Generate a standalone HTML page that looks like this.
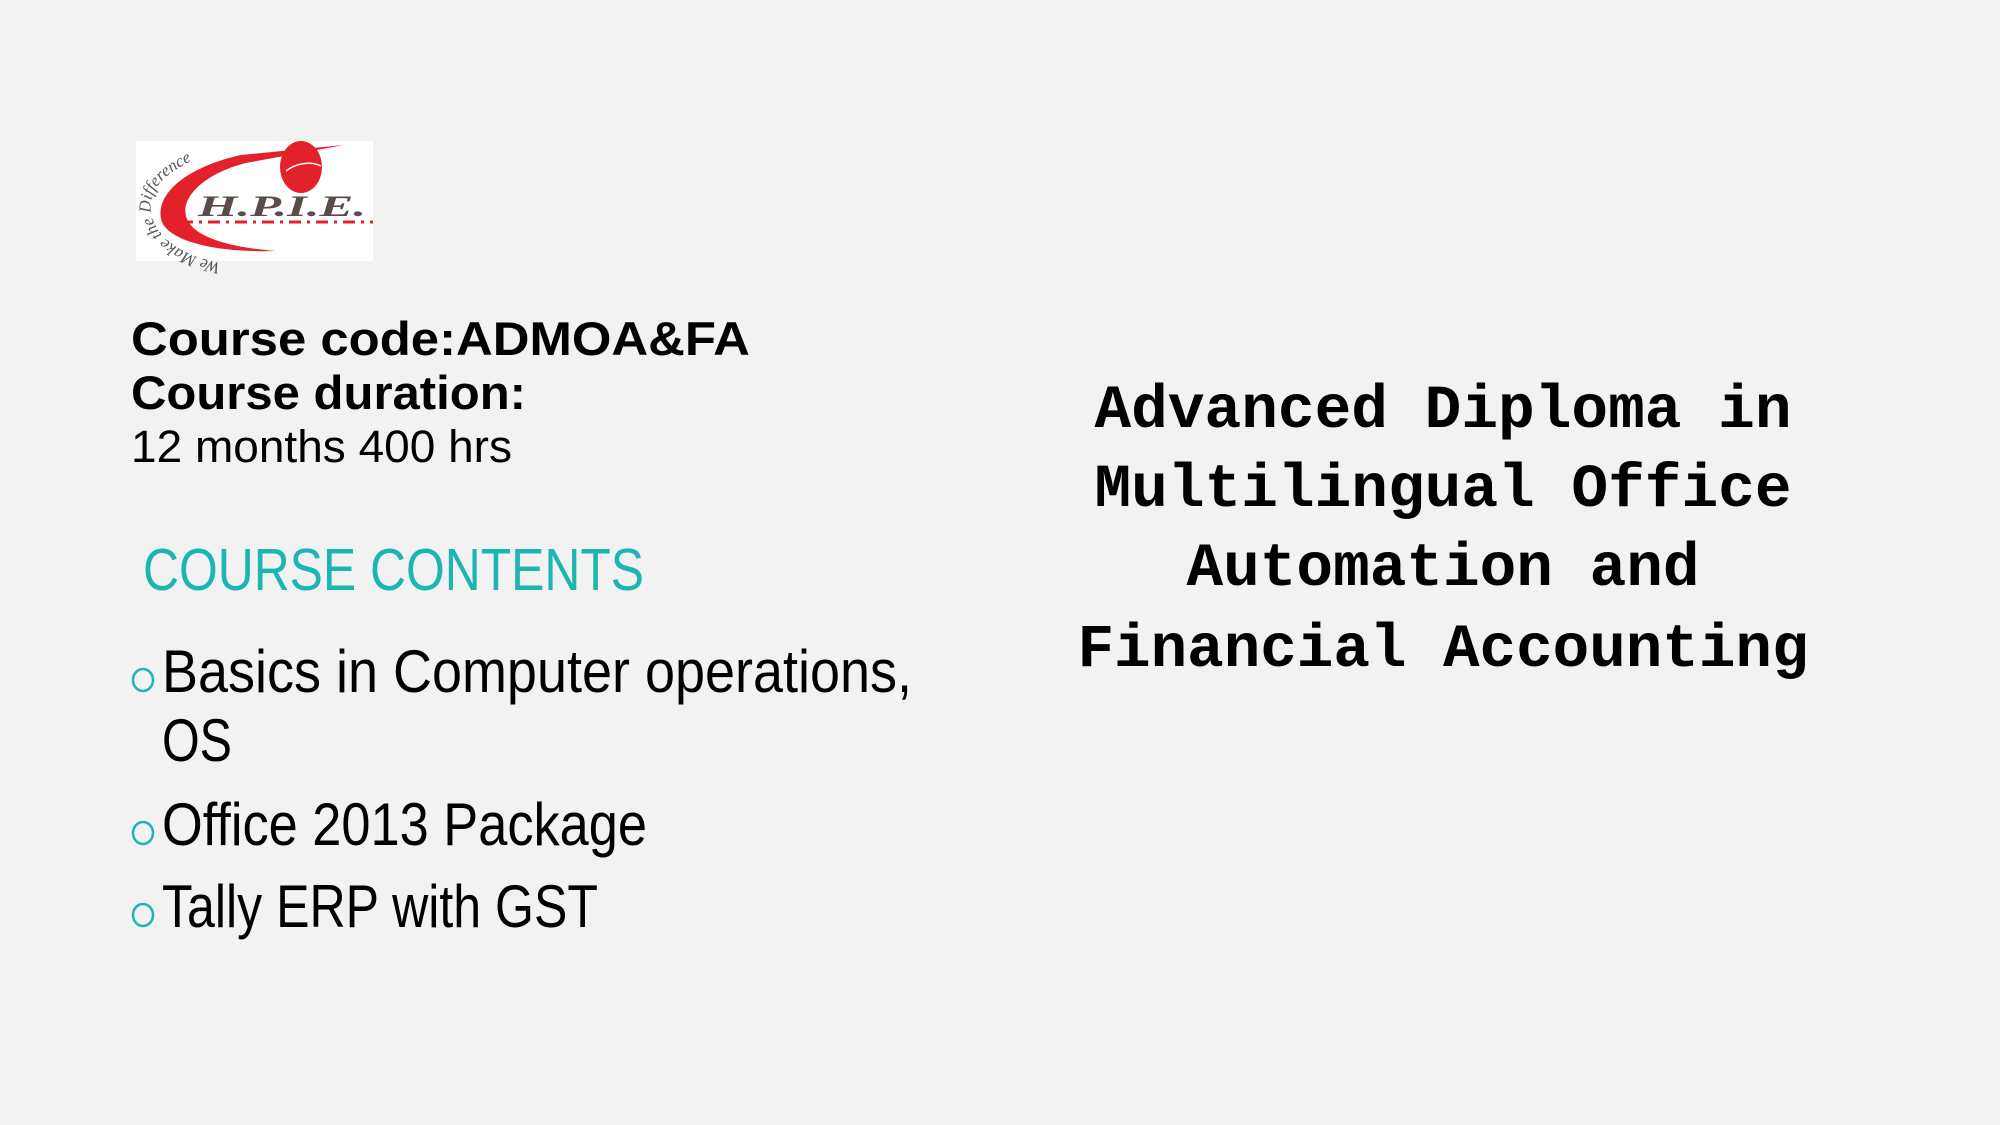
<!DOCTYPE html>
<html><head><meta charset="utf-8"><style>
html,body{margin:0;padding:0;background:#f2f2f2;}
svg{display:block}
</style></head><body>
<svg width="2000" height="1125" viewBox="0 0 2000 1125" xmlns="http://www.w3.org/2000/svg">
<rect width="2000" height="1125" fill="#f2f2f2"/>
<g transform="translate(136,141)">
<rect width="237" height="120" fill="#fff"/>
<path d="M105 14 L208 4 L110 22 C70 32 45 55 50 75 C55 95 90 106 140 110 C80 112 30 100 25 78 C20 50 55 25 105 14 Z" fill="#e3212b"/>
<ellipse cx="165" cy="26" rx="21" ry="26" fill="#e3212b"/>
<path d="M150 30 C160 22 175 20 185 25" stroke="#fff" stroke-width="1.5" fill="none"/>
<text x="62" y="75" font-family="Liberation Serif, serif" font-style="italic" font-weight="bold" font-size="30" fill="#5b4b49" textLength="168" lengthAdjust="spacingAndGlyphs">H.P.I.E.</text>
<line x1="45" y1="81" x2="237" y2="81" stroke="#e3212b" stroke-width="3" stroke-dasharray="12 6 3 6"/>
<path id="arc" d="M85 122 C15 110 -5 60 35 32 C55 18 80 8 100 4" fill="none"/>
<text font-family="Liberation Serif, serif" font-style="italic" font-size="17" fill="#555"><textPath href="#arc">We Make the Difference</textPath></text>
</g>
<text font-family="Liberation Sans, sans-serif" font-weight="bold" font-size="47" fill="#000">
<tspan x="131" y="355" textLength="617" lengthAdjust="spacingAndGlyphs">Course code:ADMOA&amp;FA</tspan>
<tspan x="131" y="409" textLength="395" lengthAdjust="spacingAndGlyphs">Course duration:</tspan>
</text>
<text x="131" y="462" font-family="Liberation Sans, sans-serif" font-size="45" fill="#000" textLength="381" lengthAdjust="spacingAndGlyphs">12 months 400 hrs</text>
<text x="143" y="590" font-family="Liberation Sans, sans-serif" font-size="59" fill="#1db5b1" textLength="501" lengthAdjust="spacingAndGlyphs">COURSE CONTENTS</text>
<g fill="none" stroke="#1db5b1" stroke-width="2.5">
<ellipse cx="143" cy="680" rx="10" ry="11"/>
<ellipse cx="143" cy="833" rx="10" ry="11"/>
<ellipse cx="143" cy="915" rx="10" ry="11"/>
</g>
<g font-family="Liberation Sans, sans-serif" font-size="60" fill="#000">
<text x="162" y="692" textLength="750" lengthAdjust="spacingAndGlyphs">Basics in Computer operations,</text>
<text x="162" y="761" textLength="70" lengthAdjust="spacingAndGlyphs">OS</text>
<text x="162" y="845" textLength="485" lengthAdjust="spacingAndGlyphs">Office 2013 Package</text>
<text x="162" y="927" textLength="436" lengthAdjust="spacingAndGlyphs">Tally ERP with GST</text>
</g>
<g font-family="Liberation Mono, monospace" font-weight="bold" font-size="61" fill="#000" text-anchor="middle">
<text x="1443" y="427" textLength="697" lengthAdjust="spacingAndGlyphs">Advanced Diploma in</text>
<text x="1443" y="506" textLength="697" lengthAdjust="spacingAndGlyphs">Multilingual Office</text>
<text x="1443" y="585" textLength="513" lengthAdjust="spacingAndGlyphs">Automation and</text>
<text x="1443" y="666" textLength="731" lengthAdjust="spacingAndGlyphs">Financial Accounting</text>
</g>
</svg>
</body></html>
